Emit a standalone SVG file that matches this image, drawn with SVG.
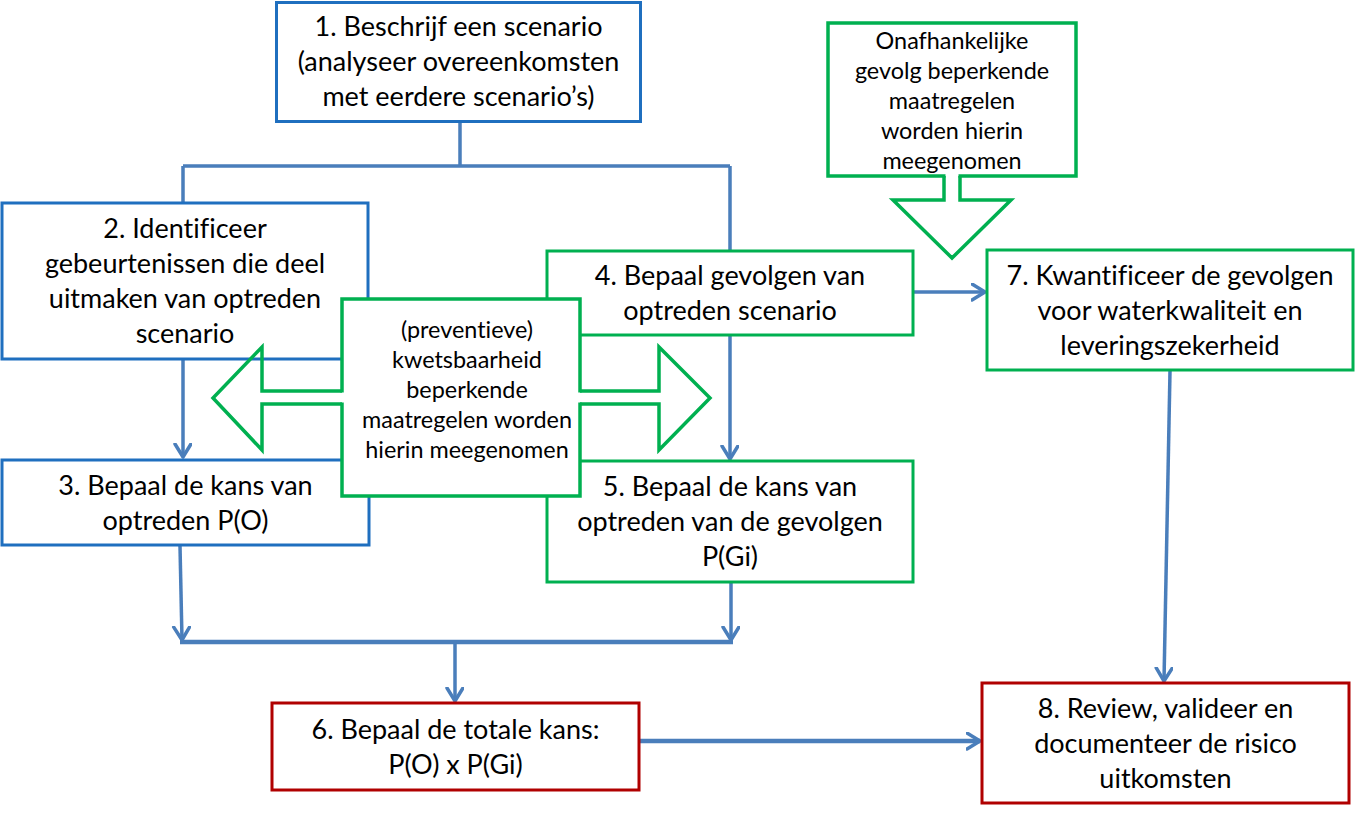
<svg xmlns="http://www.w3.org/2000/svg" width="1357" height="813" viewBox="0 0 1357 813">
<style>
.box{fill:#fff;stroke-width:3}
.blue{stroke:#1F6FBF}
.green{stroke:#00B050}
.red{stroke:#B00000}
.t{font-family:Lato,"Liberation Sans",sans-serif;font-size:27px;fill:#000;text-anchor:middle;font-variant-ligatures:none;font-feature-settings:"liga" 0,"dlig" 0}
.s{font-size:23.4px}
.c{fill:none;stroke:#4A7EBB;stroke-width:3.5}
.ga{fill:none;stroke:#00B050;stroke-width:3.5;stroke-linejoin:miter}
</style>
<defs>
<marker id="ah" markerUnits="userSpaceOnUse" markerWidth="20" markerHeight="20" refX="14" refY="9" orient="auto" viewBox="0 0 20 20">
<path d="M1,1 L14,9 L1,17" fill="none" stroke="#4A7EBB" stroke-width="3.5" stroke-linecap="round" stroke-linejoin="round"/>
</marker>
</defs>
<rect width="1357" height="813" fill="#fff"/>
<g id="connectors">
<path class="c" d="M460,121 V166 M183,166 H730 M183,166 V203 M730,166 V251"/>
<path class="c" d="M183,359 V457" marker-end="url(#ah)"/>
<path class="c" d="M730,335 V459" marker-end="url(#ah)"/>
<path class="c" d="M180,546 L182,640" marker-end="url(#ah)"/>
<path class="c" d="M731,582 V640" marker-end="url(#ah)"/>
<path class="c" style="stroke-width:4.5" d="M180,642 H733"/>
<path class="c" d="M455,642 V701" marker-end="url(#ah)"/>
<path class="c" d="M914,292 H985" marker-end="url(#ah)"/>
<path class="c" d="M1170,371 L1164,681" marker-end="url(#ah)"/>
<path class="c" style="stroke-width:4.5" d="M640,741 H980" marker-end="url(#ah)"/>
</g>
<g id="node1">
<rect class="box blue" x="276.5" y="2.5" width="364" height="119"/>
<text class="t" x="458.5" y="36">1. Beschrijf een scenario</text>
<text class="t" x="458.5" y="71">(analyseer overeenkomsten</text>
<text class="t" x="458.5" y="106">met eerdere scenario’s)</text>
</g>
<g id="node2">
<rect class="box blue" x="2" y="203" width="366" height="156"/>
<text class="t" x="185" y="237.5">2. Identificeer</text>
<text class="t" x="185" y="272.5">gebeurtenissen die deel</text>
<text class="t" x="185" y="307.5">uitmaken van optreden</text>
<text class="t" x="185" y="342.5">scenario</text>
</g>
<g id="node3">
<rect class="box blue" x="2" y="460" width="367" height="85"/>
<text class="t" x="185.5" y="494.5">3. Bepaal de kans van</text>
<text class="t" x="185.5" y="529.5">optreden P(O)</text>
</g>
<g id="node4">
<rect class="box green" x="547" y="251" width="366" height="84"/>
<text class="t" x="730" y="284.5">4. Bepaal gevolgen van</text>
<text class="t" x="730" y="319.5">optreden scenario</text>
</g>
<g id="node5">
<rect class="box green" x="547" y="461" width="366" height="121"/>
<text class="t" x="730" y="496">5. Bepaal de kans van</text>
<text class="t" x="730" y="531">optreden van de gevolgen</text>
<text class="t" x="730" y="566">P(Gi)</text>
</g>
<g id="node-preventief">
<rect class="box green" x="342" y="299" width="238" height="197" style="stroke-width:3.5"/>
<rect x="338" y="392.5" width="8" height="10" fill="#fff"/>
<rect x="576" y="392.5" width="8" height="10" fill="#fff"/>
<path class="ga" d="M342,391 H262 V347 L213,398 L262,450 V404 H342"/>
<path class="ga" d="M580,391 H659 V347 L710,398 L659,450 V404 H580"/>
<text class="t s" x="467" y="337.5">(preventieve)</text>
<text class="t s" x="467" y="367.5">kwetsbaarheid</text>
<text class="t s" x="467" y="397.5">beperkende</text>
<text class="t s" x="467" y="427.5">maatregelen worden</text>
<text class="t s" x="467" y="457.5">hierin meegenomen</text>
</g>
<g id="node-onafhankelijk">
<rect class="box green" x="828" y="23" width="248" height="153" style="stroke-width:3.5"/>
<rect x="945.5" y="172" width="13" height="8" fill="#fff"/>
<path class="ga" d="M944,176 V200 H893 L952,258 L1011,200 H960 V176"/>
<text class="t s" x="952" y="49">Onafhankelijke</text>
<text class="t s" x="952" y="79">gevolg beperkende</text>
<text class="t s" x="952" y="109">maatregelen</text>
<text class="t s" x="952" y="139">worden hierin</text>
<text class="t s" x="952" y="169">meegenomen</text>
</g>
<g id="node6">
<rect class="box red" x="272" y="703" width="367" height="87"/>
<text class="t" x="455.5" y="738.5">6. Bepaal de totale kans:</text>
<text class="t" x="455.5" y="773.5">P(O) x P(Gi)</text>
</g>
<g id="node7">
<rect class="box green" x="987" y="250" width="366" height="120"/>
<text class="t" x="1170" y="285">7. Kwantificeer de gevolgen</text>
<text class="t" x="1170" y="320">voor waterkwaliteit en</text>
<text class="t" x="1170" y="355">leveringszekerheid</text>
</g>
<g id="node8">
<rect class="box red" x="982" y="683" width="367" height="120"/>
<text class="t" x="1165.5" y="717.5">8. Review, valideer en</text>
<text class="t" x="1165.5" y="752.5">documenteer de risico</text>
<text class="t" x="1165.5" y="787.5">uitkomsten</text>
</g>
</svg>
